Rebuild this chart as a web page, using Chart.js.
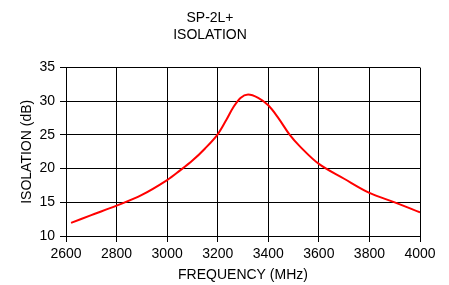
<!DOCTYPE html>
<html>
<head>
<meta charset="utf-8">
<script src="https://cdn.jsdelivr.net/npm/chart.js@4"></script>
<style>
  html, body { margin: 0; padding: 0; background: #fff; }
  #wrap { width: 449px; height: 285px; position: relative; }
</style>
</head>
<body>
<div id="wrap"><canvas id="chart" width="449" height="285"></canvas></div>
<script>
const titleLines = ["SP-2L+", "ISOLATION"];
const freqMHz = [2620, 2700, 2800, 2900, 3000, 3050, 3100, 3150, 3200, 3235, 3260, 3290, 3320, 3360, 3400, 3440, 3485, 3525, 3600, 3700, 3800, 3900, 4000];
const isolationDb = [11.95, 13.1, 14.5, 16.1, 18.3, 19.7, 21.2, 23.0, 25.1, 27.3, 29.0, 30.5, 31.0, 30.5, 29.4, 27.5, 25.0, 23.3, 20.7, 18.5, 16.4, 15.0, 13.5];
const xTicks = [2600, 2800, 3000, 3200, 3400, 3600, 3800, 4000];
const yTicks = [10, 15, 20, 25, 30, 35];

const font = "'Liberation Sans', Arial, sans-serif";
Chart.defaults.font.family = font;
Chart.defaults.color = "#000";

const points = freqMHz.map((f, i) => ({ x: f, y: isolationDb[i] }));

const ctx = document.getElementById("chart").getContext("2d");
new Chart(ctx, {
  type: "line",
  data: {
    datasets: [
      {
        data: points,
        borderColor: "#ff0000",
        borderWidth: 2,
        pointRadius: 0,
        fill: false,
        tension: 0.35,
      },
    ],
  },
  options: {
    responsive: false,
    animation: false,
    layout: { padding: { left: 0, right: 29, top: 0, bottom: 0 } },
    plugins: {
      legend: { display: false },
      tooltip: { enabled: false },
      title: {
        display: true,
        text: titleLines,
        color: "#000",
        font: { size: 14, weight: "normal", lineHeight: 1.2 },
        padding: { top: 10, bottom: 24 },
      },
    },
    scales: {
      x: {
        type: "linear",
        min: 2600,
        max: 4000,
        afterBuildTicks: (s) => { s.ticks = xTicks.map((v) => ({ value: v })); },
        afterFit: (s) => { s.height = 49; },
        ticks: { font: { size: 14 }, padding: 4, maxRotation: 0, callback: (v) => String(v) },
        grid: { color: "#000", lineWidth: 1, tickLength: 6 },
        border: { color: "#000" },
        title: {
          display: true,
          text: "FREQUENCY (MHz)",
          font: { size: 14 },
          padding: { top: 0, bottom: 1 },
        },
      },
      y: {
        min: 10,
        max: 35,
        afterBuildTicks: (s) => { s.ticks = yTicks.map((v) => ({ value: v })); },
        afterFit: (s) => { s.width = 66; },
        ticks: { font: { size: 14 }, padding: 5, callback: (v) => String(v) },
        grid: { color: "#000", lineWidth: 1, tickLength: 6 },
        border: { color: "#000" },
        title: {
          display: true,
          text: "ISOLATION (dB)",
          font: { size: 14 },
          padding: { top: 19, bottom: 0 },
        },
      },
    },
  },
});
</script>
</body>
</html>
